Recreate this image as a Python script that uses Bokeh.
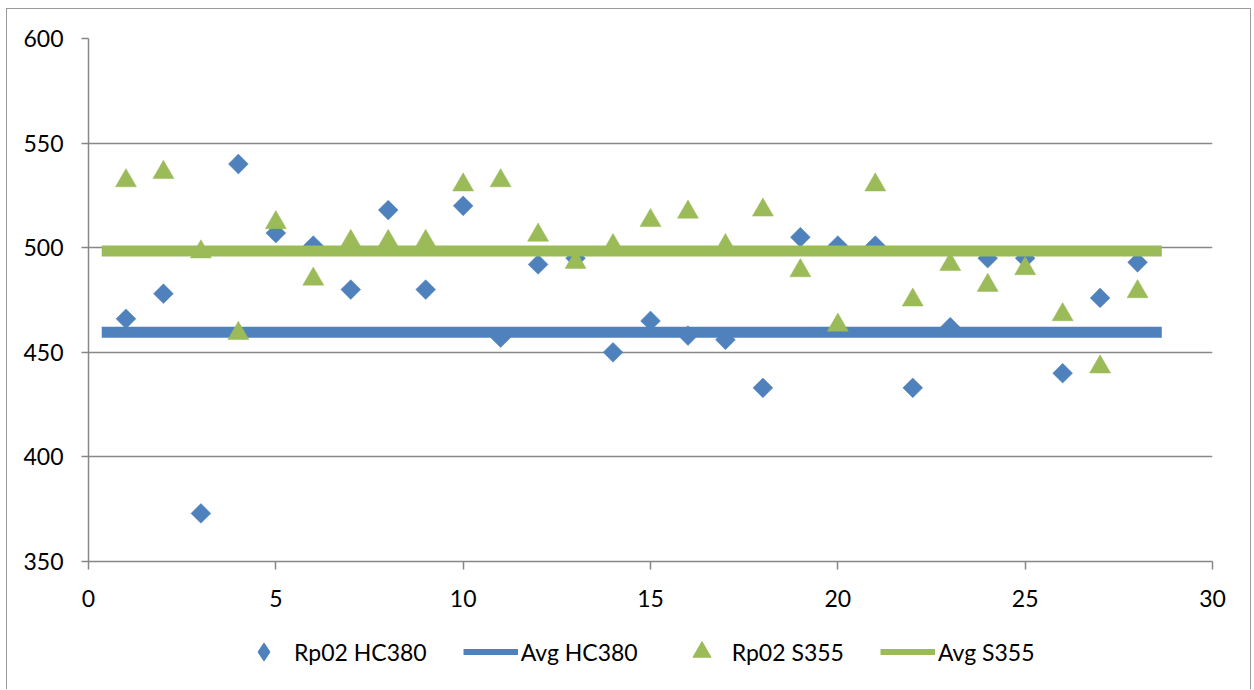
from bokeh.plotting import figure
from bokeh.layouts import column
from bokeh.models import Range1d, FixedTicker, Legend, LegendItem, ColumnDataSource
from bokeh.embed import file_html
from bokeh.resources import INLINE
import math

# Sample index (test piece number)
sample = list(range(1, 29))

# Rp0.2 yield strength per sample [MPa]
rp02_hc380 = [466, 478, 373, 540, 507, 501, 480, 518, 480, 520,
              457, 492, 495, 450, 465, 458, 456, 433, 505, 501,
              501, 433, 462, 495, 495, 440, 476, 493]
rp02_s355 = [532, 536, 498, 459, 512, 485, 503, 503, 503, 530,
             532, 506, 493, 501, 513, 517, 501, 518, 489, 463,
             530, 475, 492, 482, 490, 468, 443, 479]

# Average levels, drawn as horizontal bands across the samples
avg_x = [0.5, 28.5]
avg_hc380 = [459.6, 459.6]
avg_s355 = [498.4, 498.4]

x_ticks = [0, 5, 10, 15, 20, 25, 30]
y_ticks = [350, 400, 450, 500, 550, 600]

BLUE = "#4F81BD"
GREEN = "#9BBB59"
GRID = "#878787"
EDGE = "1px solid #9a9a9a"
FONT = "Lato"

p = figure(
    width=1245, height=612,
    x_range=Range1d(0, 30), y_range=Range1d(350, 600),
    output_backend="svg", toolbar_location=None,
    min_border_left=81, min_border_right=40,
    min_border_top=29, min_border_bottom=60,
)
p.styles = {"border-top": EDGE, "border-left": EDGE, "border-right": EDGE}
p.outline_line_color = None
p.background_fill_color = "white"
p.border_fill_color = "white"

# Grid: horizontal only
p.xgrid.visible = False
p.ygrid.ticker = FixedTicker(ticks=y_ticks)
p.ygrid.grid_line_color = GRID
p.ygrid.grid_line_width = 1.5

for ax, ticks, out, standoff in ((p.xaxis[0], x_ticks, 8, 20), (p.yaxis[0], y_ticks, 7, 18)):
    ax.ticker = FixedTicker(ticks=ticks)
    ax.axis_line_color = GRID
    ax.axis_line_width = 1.5
    ax.major_tick_line_color = GRID
    ax.major_tick_line_width = 1.5
    ax.major_tick_in = 0
    ax.major_tick_out = out
    ax.minor_tick_line_color = None
    ax.major_label_text_font = FONT
    ax.major_label_text_font_size = "23px"
    ax.major_label_text_color = "#000000"
    ax.major_label_standoff = standoff

src_hc = ColumnDataSource(dict(x=sample, y=rp02_hc380))
src_s = ColumnDataSource(dict(x=sample, y=rp02_s355))

# Series in drawing order: diamonds, blue average, triangles, green average
p.scatter("x", "y", source=src_hc, marker="square", angle=math.pi / 4,
          size=14, fill_color=BLUE, line_color=BLUE, line_width=0.5)
p.line(avg_x, avg_hc380, line_color=BLUE, line_width=11, line_cap="square")
p.scatter("x", "y", source=src_s, marker="triangle",
          size=21, fill_color=GREEN, line_color=GREEN, line_width=0.5)
p.line(avg_x, avg_s355, line_color=GREEN, line_width=11, line_cap="square")

# Legend strip below the chart
lf = figure(
    width=1245, height=69,
    x_axis_location=None, y_axis_location=None,
    output_backend="svg", toolbar_location=None,
    min_border=0,
)
lf.styles = {"border-left": EDGE, "border-right": EDGE}
lf.outline_line_color = None
lf.grid.visible = False

# Legend swatches (a single undefined point, so nothing is drawn)
nan = float("nan")
key_diamond = lf.scatter([nan], [nan], marker="diamond", fill_color=BLUE, line_color=BLUE)
key_hc = lf.line([nan], [nan], line_color=BLUE, line_width=6)
key_tri = lf.scatter([nan], [nan], marker="triangle", fill_color=GREEN, line_color=GREEN)
key_s = lf.line([nan], [nan], line_color=GREEN, line_width=6)

legend = Legend(
    items=[
        LegendItem(label="Rp02 HC380", renderers=[key_diamond]),
        LegendItem(label="Avg HC380", renderers=[key_hc]),
        LegendItem(label="Rp02 S355", renderers=[key_tri]),
        LegendItem(label="Avg S355", renderers=[key_s]),
    ],
    orientation="horizontal",
    location=(148, 15),
    border_line_color=None,
    background_fill_alpha=0,
    label_text_font=FONT,
    label_text_font_size="23px",
    label_text_color="#000000",
    glyph_width=55,
    glyph_height=45,
    label_standoff=3,
    spacing=36,
    padding=0,
    margin=0,
)
lf.add_layout(legend, "center")

layout = column(p, lf, spacing=0, margin=(8, 0, 0, 6))

open("out.html", "w").write(file_html(layout, INLINE))
